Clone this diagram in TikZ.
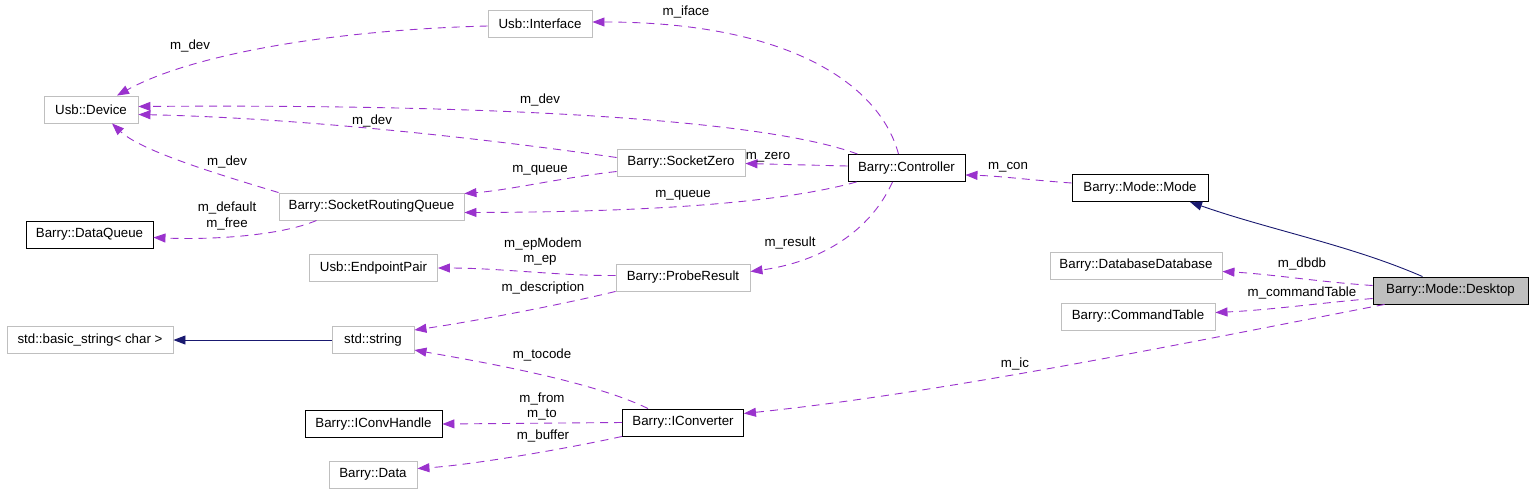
\documentclass[tikz,border=0pt]{standalone}
\usepackage{fontspec}
\setmainfont{Liberation Sans}
\usetikzlibrary{arrows.meta,calc}
\definecolor{edgepurple}{RGB}{154,50,205}
\definecolor{navyline}{RGB}{25,25,112}
\definecolor{greyborder}{RGB}{191,191,191}
\definecolor{greyfill}{RGB}{191,191,191}
\begin{document}
\begin{tikzpicture}[x=1pt,y=-1pt,
  font=\fontsize{13.3}{15}\selectfont,
  cls/.style={draw=greyborder,line width=0.9pt,minimum height=27pt,inner sep=0pt,fill=white},
  clsb/.style={draw=black,line width=0.9pt,minimum height=27pt,inner sep=0pt,fill=white},
  member/.style={draw=edgepurple,line width=0.9pt,dash pattern=on 8pt off 6pt,
    -{Triangle[length=12pt,width=9pt,fill=edgepurple]}},
  inherit/.style={draw=navyline,line width=0.9pt,
    -{Triangle[length=12pt,width=9pt,fill=navyline]}},
  lbl/.style={inner sep=0pt,text=black}
]
\useasboundingbox (0,0) rectangle (1533,493);
% nodes
\node[cls,minimum width=104pt] (iface) at (540,24) {Usb::Interface};
\node[cls,minimum width=94pt] (dev) at (91,109.5) {Usb::Device};
\node[cls,minimum width=128pt] (sz) at (681,162.5) {Barry::SocketZero};
\node[clsb,minimum width=117pt] (ctrl) at (906.5,168) {Barry::Controller};
\node[clsb,minimum width=136pt] (mode) at (1140,188) {Barry::Mode::Mode};
\node[cls,minimum width=185pt] (srq) at (371.5,206.5) {Barry::SocketRoutingQueue};
\node[clsb,minimum width=127pt] (dq) at (89.5,234.5) {Barry::DataQueue};
\node[cls,minimum width=128pt] (ep) at (373.5,268) {Usb::EndpointPair};
\node[cls,minimum width=134pt] (pr) at (683,277.5) {Barry::ProbeResult};
\node[cls,minimum width=172pt] (dd) at (1136,265.5) {Barry::DatabaseDatabase};
\node[clsb,fill=greyfill,minimum width=155pt] (desk) at (1450.5,290.5) {Barry::Mode::Desktop};
\node[cls,minimum width=154pt] (ct) at (1138,316.5) {Barry::CommandTable};
\node[cls,minimum width=166pt] (bs) at (90,340) {std::basic\_string< char >};
\node[cls,minimum width=82pt] (str) at (373,340) {std::string};
\node[clsb,minimum width=137pt] (ich) at (373.5,424) {Barry::IConvHandle};
\node[clsb,minimum width=121pt] (icv) at (683,422.5) {Barry::IConverter};
\node[cls,minimum width=88pt] (data) at (373,474.5) {Barry::Data};
% edges
\draw[member] ($(ctrl.north)+(-8,0)$) .. controls (880,85) and (790,22) .. ($(iface.east)+(0,-2)$);
\draw[member] ($(iface.west)+(0,2)$) .. controls (330,30) and (190,55) .. ($(dev.north)+(26,0)$);
\draw[member] ($(ctrl.north west)+(10,0)$) .. controls (760,118) and (480,104) .. ($(dev.east)+(0,-3)$);
\draw[member] ($(sz.west)+(0,-5)$) .. controls (480,138) and (300,118) .. ($(dev.east)+(0,5)$);
\draw[member] (srq.north west) .. controls (210,172) and (140,150) .. ($(dev.south)+(21,0)$);
\draw[member] ($(sz.west)+(0,9)$) .. controls (560,178) and (510,190) .. ($(srq.north east)+(0,1)$);
\draw[member] ($(ctrl.south west)+(9,0)$) .. controls (780,203) and (650,212) .. ($(srq.east)+(0,6)$);
\draw[member] ($(ctrl.west)+(0,-2)$) -- ($(sz.east)+(0,1)$);
\draw[member] ($(mode.west)+(0,-5)$) .. controls (1030,180) and (1000,176) .. ($(ctrl.east)+(0,7)$);
\draw[member] ($(srq.south west)+(38,0)$) .. controls (280,236) and (210,240) .. ($(dq.east)+(0,3)$);
\draw[member] ($(ctrl.south)+(-14,0)$) .. controls (870,232) and (820,262) .. ($(pr.east)+(0,-6)$);
\draw[member] ($(pr.west)+(0,-2)$) .. controls (560,276) and (500,268) .. (ep.east);
\draw[member] (pr.south west) .. controls (560,305) and (470,322) .. ($(str.east)+(0,-10)$);
\draw[inherit] (str.west) -- (bs.east);
\draw[member] ($(icv.north)+(-35,0)$) .. controls (590,380) and (470,360) .. ($(str.east)+(0,10)$);
\draw[member] (icv.west) -- (ich.east);
\draw[member] (icv.south west) .. controls (560,450) and (470,465) .. ($(data.east)+(0,-6)$);
\draw[inherit] ($(desk.north)+(-28,0)$) .. controls (1350,245) and (1270,230) .. ($(mode.south)+(50,0)$);
\draw[member] ($(desk.west)+(0,-5)$) .. controls (1320,282) and (1270,274) .. ($(dd.east)+(0,6)$);
\draw[member] ($(desk.west)+(0,8)$) .. controls (1320,303) and (1270,310) .. ($(ct.east)+(0,-4)$);
\draw[member] ($(desk.south west)+(12,0)$) .. controls (1200,340) and (950,392) .. ($(icv.east)+(0,-9)$);
% labels
\node[lbl] (l1) at (686,12) {m\_iface};
\node[lbl] (l2) at (190,46) {m\_dev};
\node[lbl] (l3) at (540,100) {m\_dev};
\node[lbl] (l4) at (372,121) {m\_dev};
\node[lbl] (l5) at (227,162) {m\_dev};
\node[lbl] (l6) at (540,170) {m\_queue};
\node[lbl] (l7) at (683,195) {m\_queue};
\node[lbl] (l8) at (768,157) {m\_zero};
\node[lbl] (l9) at (1008,167) {m\_con};
\node[lbl] (l10) at (227,208) {m\_default};
\node[lbl] (l11) at (227,224) {m\_free};
\node[lbl] (l12) at (543,244) {m\_epModem};
\node[lbl] (l13) at (540,260) {m\_ep};
\node[lbl] (l14) at (790,243) {m\_result};
\node[lbl] (l15) at (543,288) {m\_description};
\node[lbl] (l16) at (542,355) {m\_tocode};
\node[lbl] (l17) at (542,399) {m\_from};
\node[lbl] (l18) at (542,415) {m\_to};
\node[lbl] (l19) at (543,436) {m\_buffer};
\node[lbl] (l20) at (1302,264) {m\_dbdb};
\node[lbl] (l21) at (1302,293) {m\_commandTable};
\node[lbl] (l22) at (1015,364) {m\_ic};
\end{tikzpicture}
\end{document}
